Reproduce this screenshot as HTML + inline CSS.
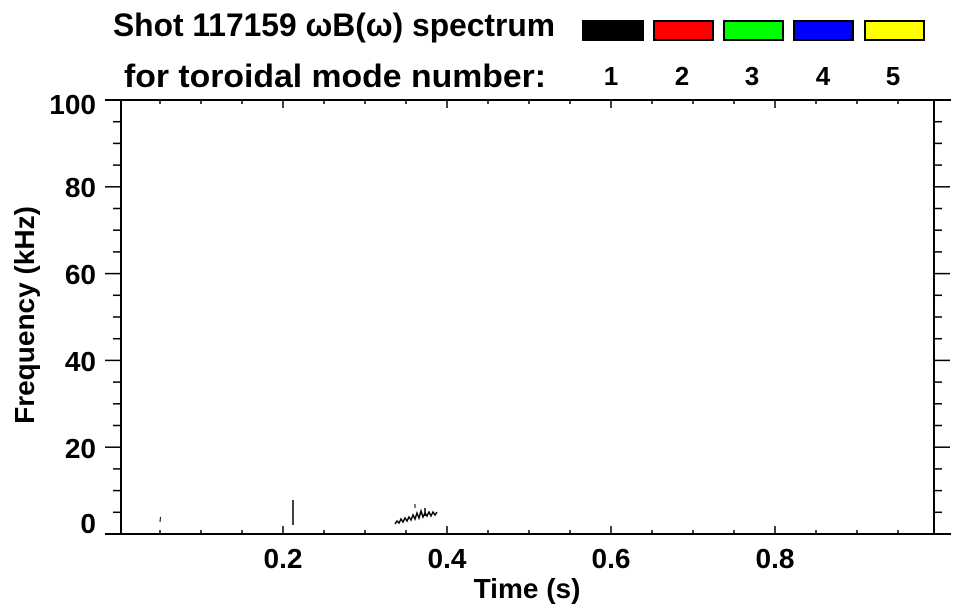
<!DOCTYPE html>
<html><head><meta charset="utf-8"><style>html,body{margin:0;padding:0;background:#fff}svg{display:block}text{font-family:"Liberation Sans",Arial,sans-serif;font-weight:bold;fill:#000}</style></head>
<body>
<svg width="963" height="615" viewBox="0 0 963 615" xmlns="http://www.w3.org/2000/svg">
<text x="113" y="36" font-size="32" textLength="442" lengthAdjust="spacingAndGlyphs">Shot 117159 ωB(ω) spectrum</text>
<text x="124" y="87" font-size="32" textLength="422" lengthAdjust="spacingAndGlyphs">for toroidal mode number:</text>
<g stroke="#000" stroke-width="2">
<rect x="583" y="21" width="60" height="19" fill="#000"/>
<rect x="654" y="21" width="59" height="19" fill="#f00"/>
<rect x="724" y="21" width="59" height="19" fill="#0f0"/>
<rect x="794" y="21" width="59" height="19" fill="#00f"/>
<rect x="865" y="21" width="59" height="19" fill="#ff0"/>
</g>
<g font-size="26" text-anchor="middle">
<text x="611" y="85">1</text><text x="682" y="85">2</text><text x="752" y="85">3</text><text x="823" y="85">4</text><text x="893" y="85">5</text>
</g>
<g stroke="#000" stroke-width="2" fill="none">
<line x1="105" y1="100" x2="951" y2="100"/>
<line x1="105" y1="534" x2="951" y2="534"/>
<line x1="121" y1="100" x2="121" y2="534"/>
<line x1="934" y1="100" x2="934" y2="534"/>
</g>
<g stroke="#000" stroke-width="1.5" id="ticks"></g>
<g font-size="28" text-anchor="end">
<text x="96" y="114">100</text><text x="96" y="197">80</text><text x="96" y="284">60</text><text x="96" y="371">40</text><text x="96" y="458">20</text><text x="96" y="533">0</text>
</g>
<g font-size="28" text-anchor="middle">
<text x="283" y="568">0.2</text><text x="447" y="568">0.4</text><text x="611" y="568">0.6</text><text x="775" y="568">0.8</text>
<text x="527" y="598">Time (s)</text>
<text transform="translate(34,315) rotate(-90)">Frequency (kHz)</text>
</g>
<g stroke="#000" fill="none">
<line x1="160.5" y1="517" x2="160" y2="522" stroke-width="1"/>
<line x1="293" y1="500" x2="293" y2="525" stroke-width="1.5"/>
<polyline stroke-width="1.5" points="395,524 397,521 399,523 401,519 403,522 405,518 407,521 409,517 411,520 413,515 415,519 417,513 419,518 421,511 423,517 425,513 427,516 429,512 431,516 433,512 435,515 437,512"/>
<line x1="415" y1="504" x2="415" y2="508" stroke-width="1"/>
<line x1="425" y1="508" x2="425" y2="516" stroke-width="1.5"/>
</g>
</svg>
<script>
(function(){var g=document.getElementById('ticks'),s='';
function L(a,b,c,d){s+='<line x1="'+a+'" y1="'+b+'" x2="'+c+'" y2="'+d+'"/>';}
for(var i=1;i<20;i++){var x=119+i*41;if(x<=121||x>=934)continue;var len=(i%4==0)?8:4;L(x,534,x,534-len);L(x,100,x,100+len);}
for(var v=5;v<100;v+=5){var y=534-v*4.34;var len=(v%20==0)?16:8;L(121,y,121-len,y);L(934,y,934+len,y);}
g.innerHTML=s;})();
</script>
</body></html>
